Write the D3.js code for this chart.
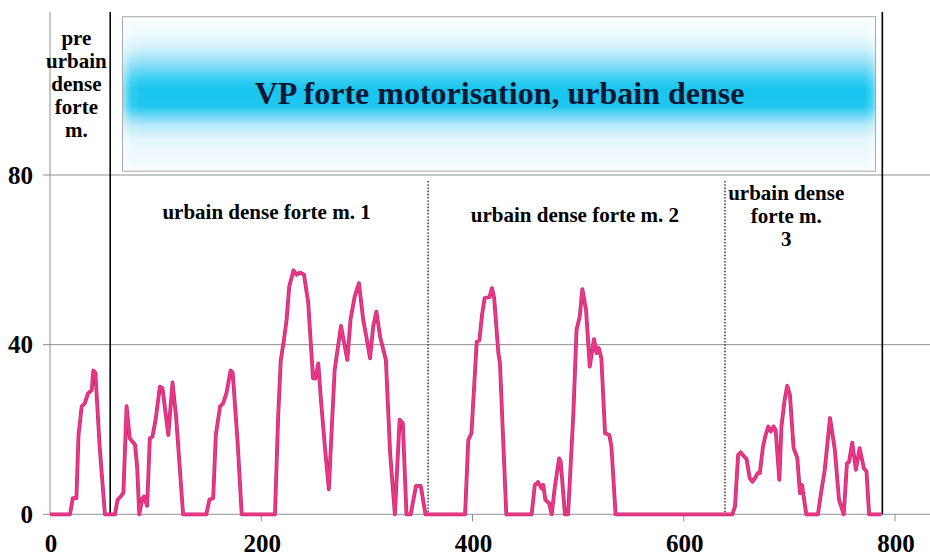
<!DOCTYPE html>
<html>
<head>
<meta charset="utf-8">
<script src="https://cdn.jsdelivr.net/npm/d3@7/dist/d3.min.js"></script>
<style>
  html, body { margin: 0; padding: 0; background: #ffffff; }
  svg { display: block; }
</style>
</head>
<body>
<svg id="chart" width="930" height="556" font-family="'Liberation Serif', 'DejaVu Serif', serif" font-weight="bold"></svg>
<script>
// Driving cycle: time (s) and vehicle speed (km/h)
const timeSec = [
  0, 19, 21.5, 25, 27, 30, 33, 36, 39.5, 41, 43, 47, 52,
  61.5, 64, 67, 69.5, 72.5, 75.5, 80.5, 82.5, 84.5, 87.5, 89, 92, 94.5, 97, 100, 104, 106.5, 112, 116, 119.5, 126,
  148, 151, 154.5, 157, 161, 164, 167, 171, 173, 177.5, 181.5,
  213, 216, 218.5, 221, 224, 226.5, 230.5, 233.5, 236.5, 240.5, 244.5, 249, 251, 254, 256.5, 260.5, 264,
  266.5, 269.5, 275.5, 281.5, 284.5, 288.5, 292.5, 296.5, 299.5, 303, 306, 309, 312.5, 318, 322, 326.5,
  331, 334, 337.5, 341.5, 346.5, 351, 355.5,
  393, 396, 399, 404, 406.5, 409, 411.5, 416, 418.5, 420.5, 424.5, 426, 432,
  456, 459, 462, 465.5, 467, 469, 472.5, 475, 478, 482, 483.5, 487.5,
  490.5, 495.5, 498.5, 501.5, 504, 507.5, 511, 515, 517.5, 519.5, 522, 525.5, 529.5, 531.5, 535.5,
  646, 648.5, 651.5, 654, 656.5, 659.5, 662.5, 665, 667.5, 670, 672, 675, 677.5, 680, 682.5, 685, 687,
  690.5, 692.5, 695.5, 698, 700.5, 704, 707.5, 710, 712, 716,
  727, 730, 733.5, 738.5, 743, 747, 751.5, 754.5, 756.5, 759.5, 763, 766.5, 770.5, 773, 775.5, 787
];
const speedKmh = [
  0, 0, 3.8, 3.8, 18.7, 25.4, 26.2, 28.5, 29.3, 33.9, 33.3, 16, 0,
  0, 3.4, 4.2, 5.1, 25.5, 17.9, 16.4, 11.2, 0, 3.8, 4.2, 2.0, 17.9, 18.3, 22.3, 30.1, 29.7, 18.7, 31.1, 22.7, 0,
  0, 3.5, 3.8, 18.7, 25.4, 26.2, 28.5, 33.9, 33.3, 17.5, 0,
  0, 23, 36.4, 40.3, 45.9, 53.7, 57.5, 56.5, 57, 56.5, 49.8, 32.1, 32, 35.6, 27, 15.2, 5.9,
  19.1, 34, 44.4, 36.4, 45.9, 51.4, 54.5, 45.9, 41.9, 36.8, 44.3, 47.8, 41.9, 36.4, 14.4, 0,
  22.3, 21.5, 0, 0, 6.7, 6.7, 0,
  0, 17.5, 19.1, 40.7, 41, 47, 51, 51.2, 53.3, 51, 38, 35.6, 0,
  0, 6.9, 7.6, 6.1, 6.9, 3.4, 2.6, 0, 6.5, 13.2, 12.4, 0,
  0, 23.8, 43.5, 46.6, 53.1, 48.2, 34.8, 41.3, 38, 39.2, 36.8, 19.1, 18.7, 16, 0,
  0, 1.8, 14, 14.6, 13.8, 13, 8.5, 7.7, 8.5, 9.7, 9.7, 15.9, 18.7, 20.7, 19.5, 20.7, 19.9,
  8.1, 20.7, 27, 30.3, 28.2, 15.6, 13.3, 5, 6.9, 0,
  0, 5, 10.5, 22.7, 15.3, 3.4, 0, 12, 12.4, 16.9, 10.5, 15.6, 10.9, 10.1, 0, 0
];

const xTicks = [0, 200, 400, 600, 800];
const yTicks = [0, 40, 80];

// Segment boundaries (s) and their line style
const boundaryTime = [57, 358, 639, 788];
const boundaryStyle = ["solid", "dotted", "dotted", "solid"];

// Segment names: lines, centre time, speed level of the first baseline
const segmentLines = [
  ["pre", "urbain", "dense", "forte", "m."],
  ["urbain dense forte m. 1"],
  ["urbain dense forte m. 2"],
  ["urbain dense", "forte m.", "3"]
];
const segmentCentre = [25, 205, 497, 697];
const segmentTop = [110.7, 69.6, 68.9, 74.2];

const bannerTitle = "VP forte motorisation, urbain dense";

(function () {
  const plotLeft = 50, plotRight = 930, plotTop = 12, plotBottom = 514.3;

  const x = d3.scaleLinear().domain([0, 800]).range([plotLeft, 895]);
  const y = d3.scaleLinear().domain([0, 80]).range([plotBottom, 175]);

  const svg = d3.select("#chart");

  // Banner gradients
  const defs = svg.append("defs");
  const gv = defs.append("linearGradient").attr("id", "bannerV")
    .attr("x1", 0).attr("y1", 0).attr("x2", 0).attr("y2", 1);
  [
    [0, "#fafdfe"], [0.1, "#f3fbfe"], [0.2, "#d2f2fb"], [0.3, "#8fe0f6"],
    [0.4, "#3ccff2"], [0.47, "#18c5ef"], [0.58, "#1fc7ef"], [0.64, "#6ad7f4"],
    [0.7, "#b6e9f8"], [0.8, "#e6f6fc"], [1, "#f8fcfe"]
  ].forEach(([o, c]) => gv.append("stop").attr("offset", o).attr("stop-color", c));

  const gh = defs.append("linearGradient").attr("id", "bannerH")
    .attr("x1", 0).attr("y1", 0).attr("x2", 1).attr("y2", 0);
  [
    [0, 0.55], [0.012, 0.1], [0.025, 0], [0.985, 0], [0.995, 0.2], [1, 0.45]
  ].forEach(([o, a]) => gh.append("stop").attr("offset", o)
    .attr("stop-color", "#ffffff").attr("stop-opacity", a));

  // Horizontal gridlines
  svg.append("g").selectAll("line").data(yTicks).join("line")
    .attr("x1", plotLeft - 7).attr("x2", plotRight)
    .attr("y1", d => y(d)).attr("y2", d => y(d))
    .attr("stroke", "#8f8f8f").attr("stroke-width", 1);

  // Vertical axis line
  svg.append("line")
    .attr("x1", plotLeft).attr("x2", plotLeft).attr("y1", plotTop).attr("y2", plotBottom)
    .attr("stroke", "#8f8f8f").attr("stroke-width", 1);

  // X ticks
  svg.append("g").selectAll("line").data(xTicks.slice(1)).join("line")
    .attr("x1", d => x(d)).attr("x2", d => x(d))
    .attr("y1", plotBottom).attr("y2", plotBottom + 7)
    .attr("stroke", "#8f8f8f").attr("stroke-width", 1);

  // Tick labels
  svg.append("g").selectAll("text").data(yTicks).join("text")
    .attr("x", 33).attr("y", d => y(d) + 8.5)
    .attr("text-anchor", "end").attr("font-size", 25).attr("fill", "#000")
    .text(d => d);
  svg.append("g").selectAll("text").data(xTicks).join("text")
    .attr("x", d => x(d) + 1).attr("y", 552)
    .attr("text-anchor", "middle").attr("font-size", 25).attr("fill", "#000")
    .text(d => d);

  // Banner
  const bx = 122.5, by = 16.7, bw = 753, bh = 154.5;
  svg.append("rect").attr("x", bx).attr("y", by).attr("width", bw).attr("height", bh)
    .attr("fill", "url(#bannerV)");
  svg.append("rect").attr("x", bx).attr("y", by).attr("width", bw).attr("height", bh)
    .attr("fill", "url(#bannerH)");
  svg.append("rect").attr("x", bx).attr("y", by).attr("width", bw).attr("height", bh)
    .attr("fill", "none").attr("stroke", "#a9a9a9").attr("stroke-width", 1);
  svg.append("text")
    .attr("x", bx + bw / 2 + 0.5).attr("y", 104)
    .attr("text-anchor", "middle").attr("font-size", 32).attr("fill", "#0a1836")
    .text(bannerTitle);

  // Segment boundaries
  const isSolid = i => boundaryStyle[i] === "solid";
  svg.append("g").selectAll("line").data(boundaryTime).join("line")
    .attr("x1", d => x(d)).attr("x2", d => x(d))
    .attr("y1", (d, i) => isSolid(i) ? plotTop : y(80) + 6)
    .attr("y2", plotBottom)
    .attr("stroke", (d, i) => isSolid(i) ? "#000" : "#333")
    .attr("stroke-width", (d, i) => isSolid(i) ? 1.6 : 1.4)
    .attr("stroke-dasharray", (d, i) => isSolid(i) ? null : "1.6,1.6");

  // Segment names
  svg.append("g").selectAll("text").data(segmentLines).join("text")
    .attr("text-anchor", "middle").attr("font-size", 21).attr("fill", "#000")
    .each(function (lines, i) {
      const t = d3.select(this);
      lines.forEach((ln, j) => {
        t.append("tspan")
          .attr("x", x(segmentCentre[i]))
          .attr("y", y(segmentTop[i]) + j * 23)
          .text(ln);
      });
    });

  // Speed trace
  const pts = timeSec.map((t, i) => [t, speedKmh[i]]);
  const line = d3.line().x(d => x(d[0])).y(d => y(d[1]));
  svg.append("path").datum(pts).attr("d", line)
    .attr("fill", "none").attr("stroke", "#b8306c").attr("stroke-width", 3.8)
    .attr("stroke-linejoin", "round");
  svg.append("path").datum(pts).attr("d", line)
    .attr("fill", "none").attr("stroke", "#f2338a").attr("stroke-width", 2.4)
    .attr("stroke-linejoin", "round");
})();
</script>
</body>
</html>
